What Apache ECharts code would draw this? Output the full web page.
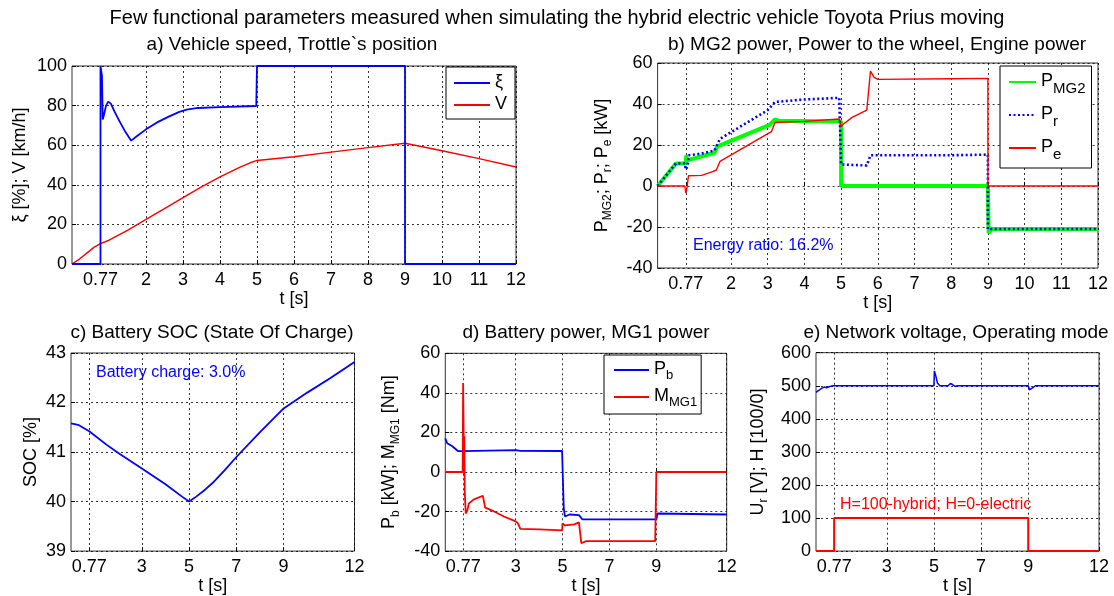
<!DOCTYPE html>
<html><head><meta charset="utf-8">
<script src="https://cdn.jsdelivr.net/npm/echarts@6/dist/echarts.min.js"></script>
<style>html,body{margin:0;padding:0;background:#fff}#c{width:1114px;height:596px}</style>
</head><body><div id="c"></div>
<script>
const FONT = '"Liberation Sans", Arial, Helvetica, sans-serif';
const ticksTop = [0.77, 2, 3, 4, 5, 6, 7, 8, 9, 10, 11, 12];
const ticksBottom = [0.77, 3, 5, 7, 9, 12];

// a) throttle position xi [%] and vehicle speed V [km/h]
const aXi = [[0,0],[0.77,0],[0.77,100],[0.80,100],[0.81,95],[0.83,73],[0.86,75],[0.92,80],[0.98,82],[1.05,81],[1.15,77],[1.3,71.5],[1.45,66.5],[1.6,62.3],[1.75,64.5],[2.0,68],[2.3,71.5],[2.6,74.3],[2.9,76.8],[3.1,78],[3.4,78.8],[4.0,79.2],[4.98,79.8],[5,100],[9,100],[9,0],[12,0]];
const aV = [[0,0],[0.2,2.5],[0.4,5.5],[0.6,8.5],[0.77,10.3],[1,12],[1.5,17],[2,22.5],[2.5,28],[3,33.5],[3.5,39],[4,44],[4.5,48.5],[4.8,51],[5,52.3],[6,54.2],[7,56.5],[8,58.8],[9,61],[10,57.2],[11,53.2],[12,49]];

// b) MG2 power, power to the wheel, engine power [kW]
const bMG2 = [[0,0],[0.5,11],[0.77,11],[0.78,15],[0.8,12.5],[0.85,13],[1.55,16.2],[1.62,19.2],[3.05,29.8],[3.2,32.5],[3.3,31.8],[5,31.5],[5,0],[9,0],[9.02,-23],[9.1,-21],[12,-21]];
const bPr = [[0,0],[0.5,11],[0.74,11],[0.77,8],[0.82,10],[0.85,15],[1.2,15.8],[1.55,17.3],[1.7,23],[3.0,37],[3.2,41],[4,42.2],[4.95,43],[5,10.5],[5.7,10],[5.8,15],[6.5,15],[8,15],[9,15.3],[9,-21],[12,-21]];
const bPe = [[0,0],[0.74,0],[0.77,-3.5],[0.8,-1],[0.84,5],[1.2,5.2],[1.5,7],[1.6,7.8],[1.7,12],[3.1,26.5],[3.2,31],[4,31.5],[4.95,32.7],[5,29],[5.05,30],[5.3,33.5],[5.7,37],[5.8,56],[5.9,53],[6,52],[8,52.3],[9,52.5],[9,0],[12,0]];

// c) battery state of charge [%]
const cSOC = [[0,41.58],[0.3,41.55],[0.77,41.42],[1.5,41.15],[2,40.98],[3,40.67],[4,40.35],[4.7,40.1],[5,40.0],[5.3,40.1],[5.7,40.25],[6,40.38],[6.5,40.63],[7,40.9],[8,41.4],[9,41.88],[10,42.2],[11,42.5],[12,42.82]];

// d) battery power [kW] and MG1 torque [Nm]
const dPb = [[0,17],[0.08,14.5],[0.3,13],[0.45,11.5],[0.55,10.5],[0.75,10.5],[0.8,11],[3,11],[3.2,10.7],[4.98,10.6],[5.05,-18],[5.1,-22.5],[5.3,-21.5],[5.7,-21.8],[5.85,-24],[9,-24],[9.05,-21],[12,-21.5]];
const dM = [[0,0],[0.74,0],[0.76,45],[0.78,45],[0.8,-2],[0.81,18],[0.83,-10],[0.87,-21],[0.95,-19],[1.0,-16],[1.2,-14],[1.6,-12],[1.7,-18],[2,-19.5],[2.5,-22.5],[3,-25],[3.1,-26],[3.2,-28.8],[4,-29],[4.98,-29.5],[5,-26],[5.05,-25],[5.1,-27],[5.5,-26.5],[5.7,-25.5],[5.8,-36],[5.85,-37],[6,-35],[8,-35],[8.95,-35],[9,0],[12,0]];

// e) network voltage [V] and operating mode H
const eU = [[0,480],[0.1,485],[0.25,493],[0.35,496],[0.45,494],[0.55,497],[0.65,499],[0.77,500],[5,500],[5.02,545],[5.08,530],[5.15,508],[5.25,500],[5.6,500],[5.7,507],[5.8,503],[5.9,498],[6.0,500],[9,500],[9.05,488],[9.15,492],[9.3,500],[12,500]];
const eH = [[0,0],[0.77,0],[0.77,100],[9,100],[9,0],[12,0]];

const chart = echarts.init(document.getElementById('c'), null, {renderer: 'canvas'});

function mkRich(n, s, drop) {
  return {
    n: {fontSize: n, fontFamily: FONT, color: '#000', lineHeight: n + 2, verticalAlign: 'top'},
    s: {fontSize: s, fontFamily: FONT, color: '#000', lineHeight: s, padding: [drop, 0, 0, 0], verticalAlign: 'top'}
  };
}
const legendNames = {
  'ξ': '{n|ξ}', 'V': '{n|V}',
  'PMG2': '{n|P}{s|MG2}', 'Pr': '{n|P}{s|r}', 'Pe': '{n|P}{s|e}',
  'Pb': '{n|P}{s|b}', 'MMG1': '{n|M}{s|MG1}'
};

const grids = [
  {left: 72, top: 66, width: 444, height: 198},
  {left: 657.6, top: 63, width: 440.4, height: 205},
  {left: 71, top: 353, width: 283.5, height: 205},
  {left: 445.3, top: 353.3, width: 281.4, height: 205},
  {left: 816, top: 352.7, width: 283, height: 203.5}
].map(g => Object.assign(g, {show: true, borderColor: '#333', borderWidth: 1, backgroundColor: '#fff', containLabel: false}));

function xAx(gi, ticks, gap) {
  return {
    type: 'value', gridIndex: gi, min: 0, max: 12,
    name: 't [s]', nameLocation: 'middle', nameGap: gap,
    nameTextStyle: {fontSize: 18, color: '#000', fontFamily: FONT},
    axisLine: {show: false},
    axisTick: {show: true, inside: true, length: 4, customValues: ticks, lineStyle: {color: '#000'}},
    axisLabel: {customValues: ticks, fontSize: 18, color: '#000', fontFamily: FONT, margin: 7, formatter: v => String(v)},
    splitLine: {show: true, lineStyle: {type: [2, 3], color: '#000', width: 0.8}}
  };
}
function yAx(gi, min, max, interval, name, gap) {
  return {
    type: 'value', gridIndex: gi, min: min, max: max, interval: interval,
    name: name, nameLocation: 'middle', nameGap: gap, nameRotate: 90,
    nameTextStyle: {fontSize: 18, color: '#000', fontFamily: FONT, rich: mkRich(18, 12, 9)},
    axisLine: {show: false},
    axisTick: {show: true, inside: true, length: 4, lineStyle: {color: '#000'}},
    axisLabel: {fontSize: 18, color: '#000', fontFamily: FONT, margin: 5},
    splitLine: {show: true, lineStyle: {type: [2, 3], color: '#000', width: 0.8}}
  };
}
function line(name, gi, data, color, width, type, z) {
  return {
    name: name, type: 'line', xAxisIndex: gi, yAxisIndex: gi, data: data,
    symbol: 'none', showSymbol: false, animation: false, z: z || 2,
    lineStyle: {color: color, width: width, type: type || 'solid'},
    itemStyle: {color: color}
  };
}
function legend(names, left, top, itemWidth, itemGap, pad, subSize) {
  return {
    data: names, orient: 'vertical', left: left, top: top,
    backgroundColor: '#fff', borderColor: '#000', borderWidth: 1, borderRadius: 0,
    padding: pad, itemWidth: itemWidth, itemHeight: 14, itemGap: itemGap,
    itemStyle: {opacity: 0}, selectedMode: false,
    formatter: n => legendNames[n],
    textStyle: {fontSize: 18, color: '#000', fontFamily: FONT, rich: mkRich(18, subSize, 9)}
  };
}
function txt(t, x, y, size, color, align) {
  return {type: 'text', x: x, y: y, z: 100, style: {text: t, fontSize: size, fontFamily: FONT, fill: color, align: align || 'center', verticalAlign: 'middle'}};
}

chart.setOption({
  animation: false,
  backgroundColor: '#fff',
  grid: grids,
  xAxis: [xAx(0, ticksTop, 25), xAx(1, ticksTop, 25), xAx(2, ticksBottom, 21), xAx(3, ticksBottom, 21), xAx(4, ticksBottom, 21)],
  yAxis: [
    yAx(0, 0, 100, 20, '{n|ξ [%]; V [km/h]}', 41),
    yAx(1, -40, 60, 20, '{n|P}{s|MG2}{n|; P}{s|r}{n|; P}{s|e}{n| [kW]}', 45),
    yAx(2, 39, 43, 1, '{n|SOC [%]}', 29),
    yAx(3, -40, 60, 20, '{n|P}{s|b}{n| [kW]; M}{s|MG1}{n| [Nm]}', 45),
    yAx(4, 0, 600, 100, '{n|U}{s|r}{n| [V]; H [100/0]}', 47)
  ],
  legend: [
    legend(['ξ', 'V'], 446, 67, 36, 4, [6, 8, 6, 7], 12),
    legend(['PMG2', 'Pr', 'Pe'], 1000, 66, 27, 9, [6, 6, 6, 8], 15),
    legend(['Pb', 'MMG1'], 604, 355, 35, 5, [5, 4, 5, 9], 13)
  ],
  series: [
    line('V', 0, aV, '#ff0000', 1.4),
    line('ξ', 0, aXi, '#0000ff', 1.8, 'solid', 3),
    line('PMG2', 1, bMG2, '#00ff00', 4),
    line('Pr', 1, bPr, '#0000ff', 2.6, [2, 2.5], 3),
    line('Pe', 1, bPe, '#ff0000', 1.4, 'solid', 4),
    line('SOC', 2, cSOC, '#0000ff', 1.8),
    line('Pb', 3, dPb, '#0000ff', 1.8),
    line('MMG1', 3, dM, '#ff0000', 1.8, 'solid', 3),
    line('U', 4, eU, '#0000ff', 1.5),
    line('H', 4, eH, '#ff0000', 2)
  ],
  graphic: [
    txt('Few functional parameters measured when simulating the hybrid electric vehicle Toyota Prius moving', 557, 18, 20, '#000'),
    txt('a) Vehicle speed, Trottle`s position', 292, 45, 19, '#000'),
    txt('b) MG2 power, Power to the wheel, Engine power', 877, 45, 19, '#000'),
    txt('c) Battery SOC (State Of Charge)', 212, 333, 19, '#000'),
    txt('d) Battery power, MG1 power', 586, 333, 19, '#000'),
    txt('e) Network voltage, Operating mode', 956, 333, 19, '#000'),
    txt('Energy ratio: 16.2%', 693, 246, 16, '#0000ff', 'left'),
    txt('Battery charge: 3.0%', 96, 373, 16, '#0000ff', 'left'),
    txt('H=100-hybrid; H=0-electric', 840, 505, 16, '#ff0000', 'left')
  ]
});
</script></body></html>
